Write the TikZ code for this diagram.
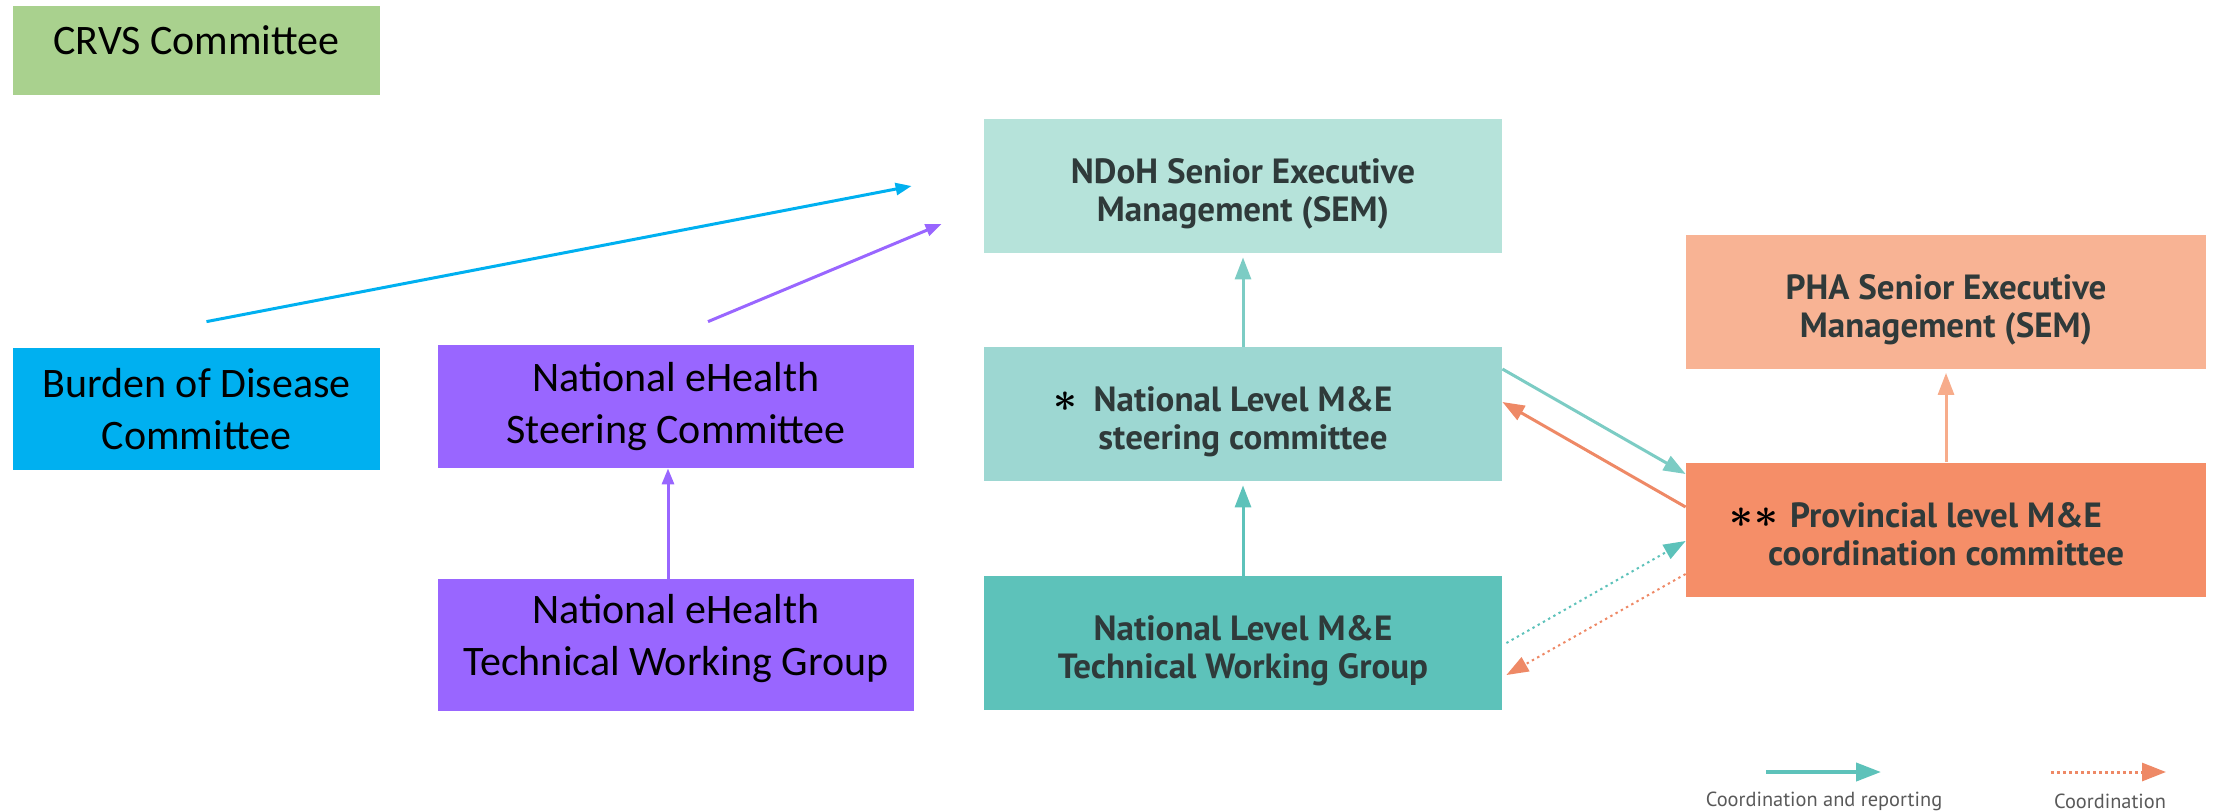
\documentclass[tikz,border=0pt]{standalone}
\usepackage{fontspec}
\usepackage{xcolor}
\usepackage{tikz}
\usetikzlibrary{arrows.meta}

\setmainfont{Carlito}
\newfontfamily\dinfont{PT Sans}

\definecolor{crvsgreen}{HTML}{A9D18E}
\definecolor{bodblue}{HTML}{00B0F0}
\definecolor{ehpurple}{HTML}{9966FF}
\definecolor{ndohfill}{HTML}{B6E3DA}
\definecolor{steerfill}{HTML}{9DD7D2}
\definecolor{twgfill}{HTML}{5DC2BA}
\definecolor{phafill}{HTML}{F8B394}
\definecolor{provfill}{HTML}{F58E68}
\definecolor{boxtext}{HTML}{2F3A3A}
\definecolor{tealline}{HTML}{7CCCC4}
\definecolor{orangeline}{HTML}{EE8966}

% two lines of a box, set a little low
\newcommand{\twolines}[2]{\raisebox{-4.5pt}[\height][\depth]{\begin{tabular}{@{}c@{}}#1\\#2\end{tabular}}}
\newcommand{\notemark}[2]{\llap{\normalfont\boldmath\color{black}\fontsize{22}{19}\selectfont#1\hspace{#2}}}

\tikzset{
    leftbox/.style={rectangle, inner sep=0pt, align=center,
        font=\fontsize{21}{26}\selectfont},
    mebox/.style={rectangle, inner sep=0pt, align=center, minimum width=259pt,
        minimum height=67pt, text=boxtext, font=\dinfont\bfseries\fontsize{17.5}{19}\selectfont},
    tealarrow/.style={draw=tealline, line width=1.5pt, -{Triangle[length=11pt,width=8pt]}},
    orangearrow/.style={draw=orangeline, line width=1.5pt, -{Triangle[length=11pt,width=8pt]}},
    legtext/.style={text=black!65, font=\dinfont\fontsize{10.2}{12}\selectfont}
}

\begin{document}
\begin{tikzpicture}[x=0.5pt,y=-0.5pt]
    % Page size in pixels
    \useasboundingbox (0,0) rectangle (2215,810);

    % Committees on the left
    \node[leftbox, fill=crvsgreen, minimum width=183.5pt, minimum height=44.5pt] (crvs) at (196.5,50.5)
        {\raisebox{5pt}[\height][\depth]{CRVS Committee}};
    \node[leftbox, fill=bodblue, minimum width=183.5pt, minimum height=61pt] (bod) at (196.5,409)
        {Burden of Disease\\Committee};
    \node[leftbox, fill=ehpurple, minimum width=238pt, minimum height=61.5pt] (ehsc) at (676,406.5)
        {National eHealth\\Steering Committee};
    \node[leftbox, fill=ehpurple, minimum width=238pt, minimum height=66pt] (ehtwg) at (676,645)
        {\raisebox{3pt}[\height][\depth]{\begin{tabular}{@{}c@{}}National eHealth\\Technical Working Group\end{tabular}}};

    % National level
    \node[mebox, fill=ndohfill] (ndoh) at (1243,186) {\twolines{NDoH Senior Executive}{Management (SEM)}};
    \node[mebox, fill=steerfill] (steer) at (1243,414)
        {\twolines{\notemark{$\ast$}{8pt}National Level M\&E}{steering committee}};
    \node[mebox, fill=twgfill] (twg) at (1243,643) {\twolines{National Level M\&E}{Technical Working Group}};

    % Provincial level
    \node[mebox, fill=phafill, minimum width=260pt] (pha) at (1946,301.5) {\twolines{PHA Senior Executive}{Management (SEM)}};
    \node[mebox, fill=provfill, minimum width=260pt] (prov) at (1946,529.5)
        {\twolines{\notemark{$\ast$\kern0.5pt$\ast$}{6pt}Provincial level M\&E}{coordination committee}};

    % Arrows on the left
    \draw[bodblue, line width=1.5pt, -{Triangle[length=8pt,width=6pt]}]
        ([xshift=5pt,yshift=13pt]bod.north) -- ([xshift=-36pt]ndoh.west);
    \draw[ehpurple, line width=1.5pt, -{Triangle[length=8pt,width=6pt]}]
        ([xshift=16pt,yshift=11.5pt]ehsc.north) -- ([xshift=-21pt,yshift=-19pt]ndoh.west);
    \draw[ehpurple, line width=1.5pt, -{Triangle[length=8pt,width=6pt]}]
        ([xshift=-4pt]ehtwg.north) -- ([xshift=-4pt]ehsc.south);

    % Arrows between the M&E boxes
    \draw[tealarrow, shorten >=2pt] (steer.north) -- (ndoh.south);
    \draw[tealarrow, draw=twgfill, shorten >=2pt] (twg.north) -- (steer.south);
    \draw[orangearrow, draw=phafill!80!provfill, shorten >=2pt] (prov.north) -- (pha.south);
    \draw[tealarrow] ([yshift=22.5pt]steer.east) -- ([yshift=27.75pt]prov.west);
    \draw[orangearrow] ([yshift=11.25pt]prov.west) -- ([yshift=6pt]steer.east);
    \draw[tealarrow, draw=twgfill, line width=1pt, dash pattern=on 1.2pt off 1.8pt]
        ([xshift=2pt]twg.east) -- ([yshift=-5.75pt]prov.west);
    \draw[orangearrow, line width=1pt, dash pattern=on 1.2pt off 1.8pt]
        ([yshift=-22.25pt]prov.west) -- ([xshift=2pt,yshift=-16pt]twg.east);

    % Legend
    \coordinate (tealA) at (1766,772);
    \coordinate (tealB) at (1881,772);
    \coordinate (dotA) at (2051,772);
    \coordinate (dotB) at (2166,772);
    \draw[tealarrow, draw=twgfill, line width=2pt, -{Triangle[length=12.5pt,width=9pt]}] (tealA) -- (tealB);
    \draw[orangearrow, line width=1.5pt, dash pattern=on 1.5pt off 1.5pt, -{Triangle[length=12pt,width=9pt]}] (dotA) -- (dotB);
    \node[legtext] (tealtext) at (1824,801) {Coordination and reporting};
    \node[legtext] (dottext) at (2110,801) {Coordination};
\end{tikzpicture}
\end{document}
